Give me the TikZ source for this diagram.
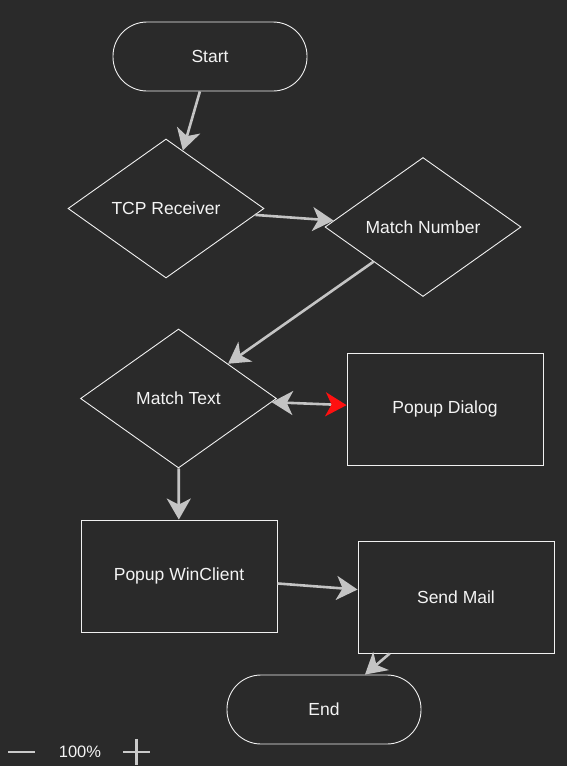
\documentclass[tikz,border=0pt]{standalone}
\usepackage{fontspec}
\setmainfont{Liberation Sans}
\usetikzlibrary{arrows.meta,shapes.geometric}
\definecolor{flowBg}{HTML}{2A2A2A}
\definecolor{flowLine}{HTML}{F0F0F0}
\definecolor{flowArrow}{HTML}{C4C4C4}
\definecolor{flowText}{HTML}{F4F4F4}
\definecolor{flowRed}{HTML}{FF1010}

\begin{document}
\begin{tikzpicture}[x=1pt,y=-1pt,
      base/.style={draw=flowLine,line width=0.9pt,inner sep=0pt,text=flowText,
        font=\fontsize{17.5}{20}\selectfont},
      terminal/.style={base,rounded corners=34pt,minimum width=194pt,minimum height=69pt},
      decision/.style={base,diamond,minimum width=196pt,minimum height=139pt},
      process/.style={base,rectangle,minimum width=196pt,minimum height=112pt},
      flow/.style={-{Stealth[length=21pt,width=24pt,inset=6pt]},line width=2.6pt,draw=flowArrow},
      ctrl/.style={line width=2.4pt,draw=flowArrow!90!white}]
    \useasboundingbox (0,0) rectangle (567,766);
    \fill[flowBg] (0,0) rectangle (567,766);
    % shapes
    \node[terminal] (start) at (210,56.5) {Start};
    \node[decision] (tcp) at (166,208.5) {TCP Receiver};
    \node[decision] (matchNum) at (423,227) {Match Number};
    \node[decision] (matchText) at (178.5,398.5) {Match Text};
    \node[process] (popDialog) at (445,409) {Popup Dialog};
    \node[process] (popWin) at (179,576) {Popup WinClient};
    \node[process] (sendMail) at (456,597) {Send Mail};
    \node[terminal] (finish) at (324,709.5) {End};
    % connectors
    \draw[flow] (start) -- (tcp);
    \draw[flow] (tcp) -- (matchNum);
    \draw[flow] (matchNum) -- (matchText);
    \draw[flow,{Stealth[length=21pt,width=24pt,inset=6pt]}-{Stealth[length=21pt,width=24pt,inset=6pt,color=flowRed]}]
      (matchText) -- (popDialog);
    \draw[flow] (matchText) -- (popWin);
    \draw[flow] (popWin) -- (sendMail);
    \draw[flow] (sendMail) -- (finish);
    % zoom control
    \draw[ctrl] (8,752) -- (35,752);
    \node[text=flowText,font=\fontsize{16.5}{18}\selectfont] (zoomPct) at (80,752) {100\%};
    \draw[ctrl] (123,752) -- (150,752) (136.5,739) -- (136.5,765);
\end{tikzpicture}
\end{document}
